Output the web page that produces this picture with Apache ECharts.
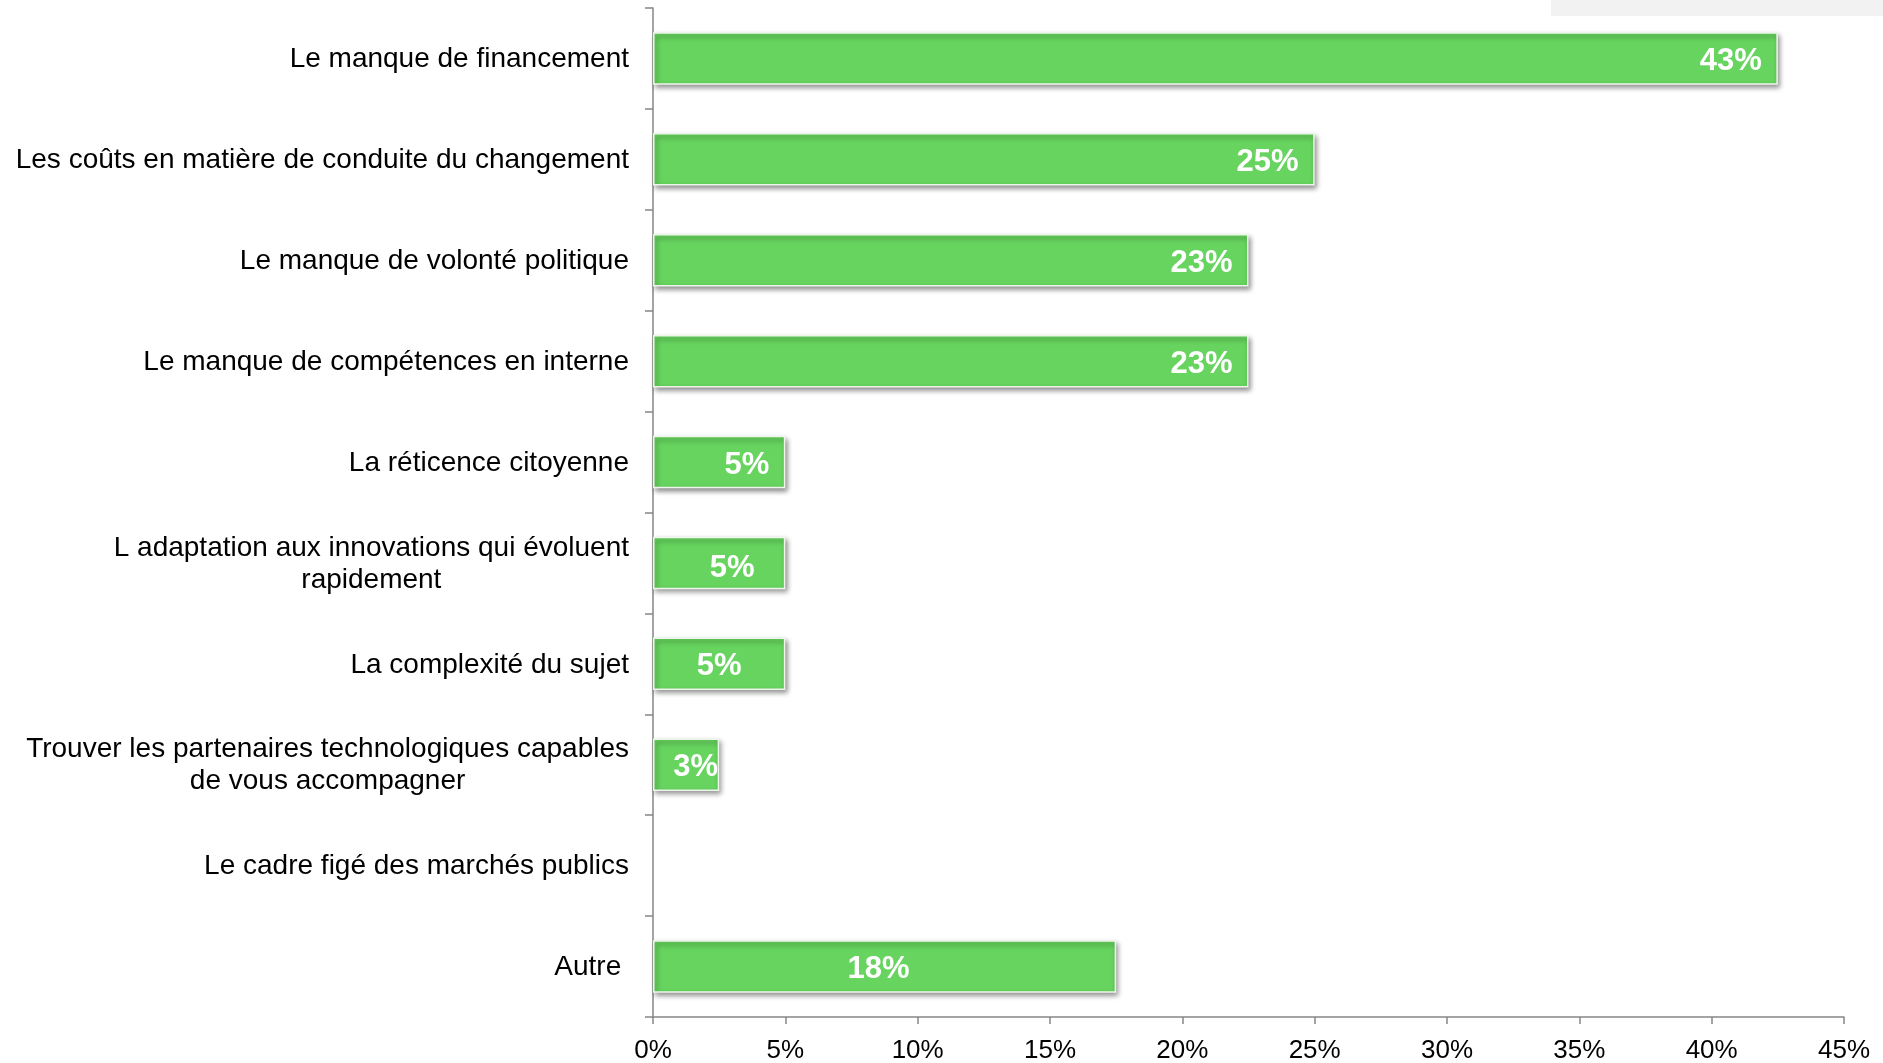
<!DOCTYPE html>
<html>
<head>
<meta charset="utf-8">
<script src="https://cdn.jsdelivr.net/npm/echarts@6/dist/echarts.min.js"></script>
<style>
html,body{margin:0;padding:0;background:#fff;}
#chart{width:1883px;height:1063px;}
</style>
</head>
<body>
<div id="chart"></div>
<script>
var categories = [
  "Le manque de financement",
  "Les coûts en matière de conduite du changement",
  "Le manque de volonté politique",
  "Le manque de compétences en interne",
  "La réticence citoyenne",
  "L adaptation aux innovations qui évoluent\nrapidement",
  "La complexité du sujet",
  "Trouver les partenaires technologiques capables\nde vous accompagner",
  "Le cadre figé des marchés publics",
  "Autre "
];
var values = [42.5, 25, 22.5, 22.5, 5, 5, 5, 2.5, 0, 17.5];
var xTicks = [0, 5, 10, 15, 20, 25, 30, 35, 40, 45];

var FONT = "'Liberation Sans', Arial, sans-serif";
// label placement per bar (style only)
var labelPos = ['insideRight','insideRight','insideRight','insideRight','insideRight','inside','inside','insideRight','inside','inside'];
var labelOffset = [[0,3],[0,3],[0,3],[0,3],[0,3],[13,6],[0,3],[0,3],[0,3],[-6,3]];
var labelDist = [16,16,16,16,16,16,16,1,5,5];

var data = values.map(function (v, i) {
  var item = {
    value: v,
    label: { position: labelPos[i], offset: labelOffset[i], distance: labelDist[i] }
  };
  if (!(v > 0)) { item.itemStyle = { opacity: 0 }; }
  return item;
});

var chart = echarts.init(document.getElementById('chart'), null, {renderer: 'canvas'});
chart.setOption({
  animation: false,
  backgroundColor: '#ffffff',
  graphic: [{
    type: 'rect',
    shape: { x: 1551, y: 0, width: 332, height: 16 },
    style: { fill: '#f2f2f2' },
    silent: true
  }],
  grid: { left: 653, right: 39, top: 8, bottom: 46, containLabel: false, outerBoundsMode: 'none' },
  xAxis: {
    type: 'value',
    min: xTicks[0],
    max: xTicks[xTicks.length - 1],
    interval: xTicks[1] - xTicks[0],
    splitLine: { show: false },
    axisLine: { show: true, lineStyle: { color: '#868686', width: 1.5 } },
    axisTick: { show: true, length: 7, lineStyle: { color: '#868686', width: 1.5 } },
    axisLabel: {
      formatter: '{value}%',
      color: '#000',
      fontFamily: FONT,
      fontSize: 26,
      margin: 21
    }
  },
  yAxis: {
    type: 'category',
    inverse: true,
    data: categories,
    axisLine: { show: true, lineStyle: { color: '#868686', width: 1.5 } },
    axisTick: { show: true, length: 8, alignWithLabel: false, lineStyle: { color: '#868686', width: 1.5 } },
    axisLabel: {
      color: '#000',
      fontFamily: FONT,
      fontSize: 28,
      margin: 24,
      formatter: function (v) {
        return v.split('\n').map(function (s) { return '{c|' + s + '}'; }).join('\n');
      },
      rich: {
        c: { align: 'center', fontFamily: FONT, fontSize: 28, color: '#000', lineHeight: 32, padding: [2, 0, 0, 0] }
      }
    }
  },
  series: [{
    type: 'bar',
    data: data,
    barCategoryGap: '48%',
    itemStyle: {
      color: '#66D45E',
      borderColor: '#eef6ec',
      borderWidth: 1.5,
      shadowColor: 'rgba(0,0,0,0.45)',
      shadowBlur: 5,
      shadowOffsetX: 2,
      shadowOffsetY: 3
    },
    label: {
      show: true,
      color: '#fff',
      fontFamily: FONT,
      fontWeight: 'bold',
      fontSize: 31,
      formatter: function (p) { return p.value > 0 ? Math.round(p.value) + '%' : ''; }
    }
  }]
});
</script>
</body>
</html>
